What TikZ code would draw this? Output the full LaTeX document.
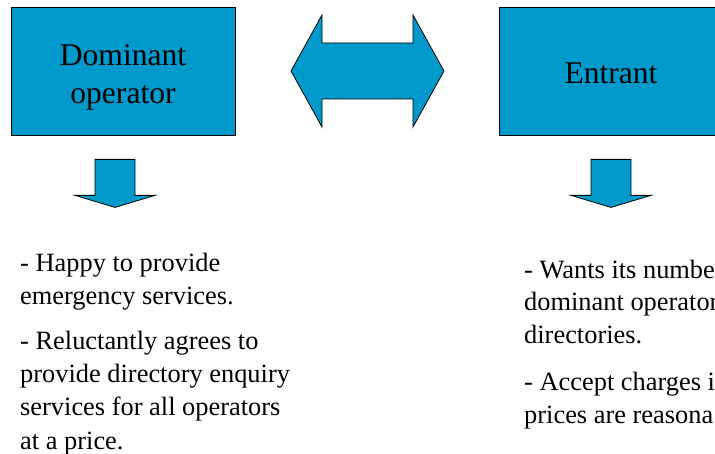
\documentclass[tikz,border=0pt]{standalone}
\usepackage{fontspec}
\setmainfont{Liberation Serif}
\usetikzlibrary{positioning,calc}
\definecolor{cerulean}{HTML}{0099CC}
\tikzstyle{party}=[draw=black, fill=cerulean, line width=0.8pt,
    minimum width=224pt, minimum height=128pt, inner sep=0pt]
\tikzstyle{partyname}=[inner sep=0pt, align=center, font=\fontsize{31.6}{38}\selectfont]
\tikzstyle{bigarrow}=[draw=black, fill=cerulean, line width=0.8pt, line join=miter]
\tikzstyle{points}=[anchor=north west, inner sep=0pt, align=left,
    font=\fontsize{26.4}{33.3}\selectfont]
\begin{document}
\begin{tikzpicture}[x=1pt,y=-1pt]
    
    \useasboundingbox (0,0) rectangle (715,454);
    \clip (0,0) rectangle (715,454);
    
    % the two parties
    \node[party] (dominant) at (123,71) {};
    \node[party] (entrant) at (611,71) {};
    \node[partyname] (dominant name) at ($(dominant) + (0,6)$) {Dominant\\operator};
    \node[partyname] (entrant name) at ($(entrant) + (0,2)$) {Entrant};
    
    % two-way arrow between them
    \coordinate (link) at ($(dominant.east)!0.5!(entrant.west)$);
    \draw[bigarrow] (link) ++(-76,0) -- ++(31,-56) -- ++(0,28) -- ++(91,0)
        -- ++(0,-28) -- ++(31,56) -- ++(-31,56) -- ++(0,-28) -- ++(-91,0)
        -- ++(0,28) -- cycle;
    
    % down arrows
    \coordinate (dominant drop) at ($(dominant.south) + (-8,24)$);
    \coordinate (entrant drop) at ($(entrant.south) + (0,24)$);
    \foreach \who in {dominant,entrant}
        \draw[bigarrow] (\who\space drop) ++(-20,0) -- ++(40,0) -- ++(0,36)
            -- ++(20,0) -- ++(-40,12) -- ++(-40,-12) -- ++(20,0) -- cycle;
    
    % positions
    \node[points] (dominant view) at (20,252.5)
        {- Happy to provide\\emergency services.\\[11.5pt]- Reluctantly agrees to\\provide directory enquiry\\services for all operators\\at a price.};
    \node[points, font=\fontsize{26.4}{32.3}\selectfont] (entrant view) at (524,260)
        {- Wants its numbe\\dominant operator\\directories.\\[15.5pt]- Accept charges i\\prices are reasona};
    
\end{tikzpicture}
\end{document}
